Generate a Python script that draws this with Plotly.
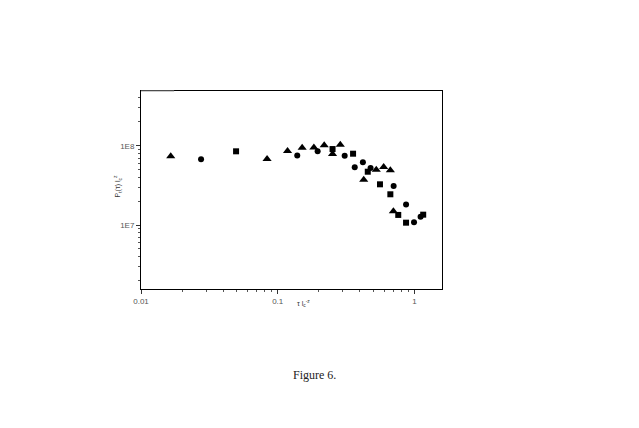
import plotly.graph_objects as go

# data (log-log)
tri_x = [0.0165, 0.0836, 0.118, 0.151, 0.184, 0.219, 0.252, 0.287, 0.426, 0.526, 0.596, 0.667, 0.702]
tri_y = [7.35e7, 6.8e7, 8.6e7, 9.4e7, 9.5e7, 1.01e8, 7.85e7, 1.03e8, 3.73e7, 4.98e7, 5.38e7, 4.89e7, 1.49e7]

sq_x = [0.0496, 0.252, 0.356, 0.456, 0.560, 0.667, 0.762, 0.869, 1.16]
sq_y = [8.5e7, 9.08e7, 7.93e7, 4.7e7, 3.26e7, 2.44e7, 1.34e7, 1.07e7, 1.35e7]

circ_x = [0.0275, 0.139, 0.196, 0.309, 0.366, 0.420, 0.478, 0.705, 0.869, 0.994, 1.11]
circ_y = [6.73e7, 7.55e7, 8.49e7, 7.48e7, 5.34e7, 6.17e7, 5.23e7, 3.1e7, 1.82e7, 1.08e7, 1.27e7]

x_ticks = [0.01, 0.1, 1]
x_labels = ['0.01', '0.1', '1']
y_ticks = [1e7, 1e8]
y_labels = ['1E7', '1E8']

fig = go.Figure()

for xs, ys, sym, sz in [(tri_x, tri_y, 'triangle-up', 8),
                        (sq_x, sq_y, 'square', 6),
                        (circ_x, circ_y, 'circle', 6)]:
    fig.add_trace(go.Scatter(
        x=xs, y=ys, mode='markers',
        marker=dict(symbol=sym, size=sz, color='black'),
        showlegend=False
    ))

axis_common = dict(
    type='log',
    showgrid=False,
    zeroline=False,
    showline=True,
    linecolor='black',
    linewidth=1,
    mirror=True,
    ticks='outside',
    ticklen=4,
    tickwidth=1,
    tickcolor='#333',
    tickfont=dict(family='Liberation Sans', size=8, color='#555'),
    minor=dict(dtick='D1', ticks='outside', ticklen=2, tickcolor='#555', showgrid=False),
)

fig.update_xaxes(range=[-2, 0.202], tickmode='array', tickvals=x_ticks, ticktext=x_labels, **axis_common)
fig.update_yaxes(range=[6.193, 8.69], tickmode='array', tickvals=y_ticks, ticktext=y_labels, **axis_common)

# grey stub at the start of the top frame line, as in the scan
fig.add_shape(type='line', xref='paper', yref='paper', x0=0, x1=0.11, y0=1, y1=1,
              line=dict(color='#999', width=1.2))

# page body adds ~8px offset, so margins are shifted to compensate
fig.update_layout(
    width=639,
    height=428,
    margin=dict(l=133, r=205, t=83, b=147),
    plot_bgcolor='white',
    paper_bgcolor='white',
    font=dict(family='Liberation Sans', color='#333'),
    annotations=[
        dict(text='τ l<sub>c</sub><sup>-z</sup>', x=0.54, y=-0.105, xref='paper', yref='paper',
             showarrow=False, font=dict(size=7, color='#333')),
        dict(text='P<sub>t</sub>(τ) l<sub>c</sub><sup>z</sup>', x=-0.1, y=0.52, xref='paper', yref='paper',
             showarrow=False, textangle=-90, font=dict(size=7, color='#333')),
        dict(text='Figure 6.', x=0.578, y=-0.478, xref='paper', yref='paper',
             showarrow=False, font=dict(family='Liberation Serif', size=12, color='#222')),
    ],
)

fig.write_html("out.html")
